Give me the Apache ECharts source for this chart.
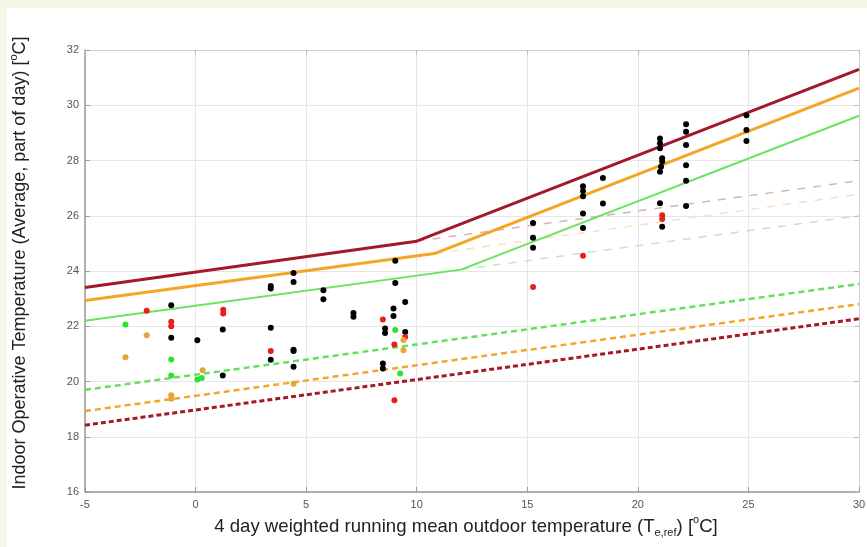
<!DOCTYPE html>
<html>
<head>
<meta charset="utf-8">
<script src="https://cdn.jsdelivr.net/npm/echarts@6/dist/echarts.min.js"></script>
<style>
  html, body { margin: 0; padding: 0; width: 867px; height: 547px; background: #f7f7e7; overflow: hidden; }
  #chart { position: absolute; left: 7px; top: 8px; width: 860px; height: 539px; background: #ffffff; }
</style>
</head>
<body>
<div id="chart"></div>
<script>
// ---- Axis ticks ----
const xTicks = [-5, 0, 5, 10, 15, 20, 25, 30];
const yTicks = [16, 18, 20, 22, 24, 26, 28, 30, 32];

// ---- Comfort limit lines [Te,ref, T_indoor] ----
const upperDarkRed   = [[-5, 23.4], [10, 25.08], [30, 31.3]];
const upperOrange    = [[-5, 22.93], [10.8, 24.63], [30, 30.62]];
const upperGreen     = [[-5, 22.2], [12, 24.05], [30, 29.62]];
const paleDarkRed    = [[10, 25.08], [30, 27.27]];
const paleOrange     = [[10.8, 24.63], [30, 26.78]];
const paleGreen      = [[12, 24.05], [30, 26.0]];
const lowerGreen     = [[-5, 19.7], [30, 23.53]];
const lowerOrange    = [[-5, 18.93], [30, 22.8]];
const lowerDarkRed   = [[-5, 18.42], [30, 22.27]];

// ---- Measured points ----
const blackPoints = [
  [-1.1, 22.76], [-1.1, 21.58], [0.08, 21.49], [1.23, 21.88], [1.23, 20.22],
  [3.4, 23.46], [3.4, 23.37], [3.4, 21.95], [3.4, 20.79],
  [4.43, 23.93], [4.43, 23.6], [4.43, 21.15], [4.43, 21.1], [4.43, 20.53],
  [5.78, 23.3], [5.78, 22.98], [7.14, 22.48], [7.14, 22.34],
  [9.03, 24.37], [9.03, 23.57], [9.48, 22.88], [8.95, 22.64], [8.95, 22.37],
  [8.57, 21.92], [8.57, 21.76], [9.48, 21.79], [8.47, 20.65], [8.47, 20.47],
  [15.26, 25.74], [15.26, 25.2], [15.26, 24.84],
  [17.52, 27.07], [17.52, 26.9], [17.52, 26.71], [17.52, 26.08], [17.52, 25.56],
  [18.42, 27.37], [18.42, 26.44],
  [21.0, 28.8], [21.0, 28.62], [21.0, 28.44], [21.1, 28.08], [21.1, 27.96],
  [21.05, 27.77], [21.0, 27.59], [21.0, 26.45], [21.1, 25.6],
  [22.18, 29.31], [22.18, 29.04], [22.18, 28.56], [22.18, 27.83], [22.18, 27.27], [22.18, 26.35],
  [24.91, 29.64], [24.91, 29.1], [24.91, 28.71]
];
const redPoints = [
  [-2.21, 22.56], [-1.1, 22.16], [-1.1, 22.0], [1.25, 22.6], [1.25, 22.46],
  [3.4, 21.1], [8.47, 22.24], [9.48, 21.61], [8.99, 21.34], [8.99, 19.32],
  [15.26, 23.42], [17.52, 24.55], [21.1, 26.02], [21.1, 25.88]
];
const orangePoints = [
  [-3.17, 20.88], [-2.21, 21.67], [-1.1, 19.5], [-1.1, 19.38], [0.32, 20.41],
  [9.4, 21.5], [9.4, 21.13], [4.43, 19.92]
];
const greenPoints = [
  [-3.17, 22.06], [-1.1, 20.8], [-1.1, 20.22], [0.08, 20.07], [0.28, 20.13],
  [9.03, 21.86], [9.25, 20.29]
];

const FONT = 'Liberation Sans, Arial, sans-serif';
const chart = echarts.init(document.getElementById('chart'), null, { renderer: 'canvas' });

function lineSeries(data, color, width, type) {
  return {
    type: 'line', data: data, symbol: 'none', silent: true, z: 2,
    lineStyle: { color: color, width: width, type: type || 'solid' }
  };
}
function scatterSeries(data, color, size) {
  return { type: 'scatter', data: data, symbol: 'circle', symbolSize: size, z: 5,
           itemStyle: { color: color, opacity: 1 } };
}

const axisText = { fontFamily: FONT, fontSize: 11, color: '#555' };
function makeRich(size) {
  return {
    a: { fontFamily: FONT, fontSize: size, color: '#222', lineHeight: 24 },
    s: { fontFamily: FONT, fontSize: 11, color: '#222', verticalAlign: 'top', lineHeight: 24 },
    b: { fontFamily: FONT, fontSize: 11, color: '#222', verticalAlign: 'bottom', lineHeight: 24, padding: [8, 0, 0, 0] }
  };
}

chart.setOption({
  animation: false,
  backgroundColor: '#ffffff',
  grid: { left: 78, right: 8, top: 42, bottom: 55, containLabel: false, outerBoundsMode: 'none' },
  xAxis: [{
    type: 'value', min: xTicks[0], max: xTicks[xTicks.length - 1], interval: 5,
    name: '{a|4 day weighted running mean outdoor temperature (T}{b|e,ref}{a|) [}{s|o}{a|C]}',
    nameLocation: 'middle', nameGap: 18,
    nameTextStyle: { rich: makeRich(18.6), padding: [0, 12, 0, 0] },
    axisLine: { onZero: false, lineStyle: { color: '#999', width: 1.5 } },
    axisTick: { inside: true, length: 5, lineStyle: { color: '#999' } },
    axisLabel: Object.assign({ margin: 7 }, axisText),
    splitLine: { show: true, lineStyle: { color: '#e6e6e6', width: 1 } }
  }, {
    type: 'value', position: 'top', min: -5, max: 30, interval: 5,
    axisLine: { show: true, onZero: false, lineStyle: { color: '#cfcfcf', width: 1 } },
    axisTick: { inside: true, length: 5, lineStyle: { color: '#bbb' } },
    axisLabel: { show: false }, splitLine: { show: false }
  }],
  yAxis: [{
    type: 'value', min: yTicks[0], max: yTicks[yTicks.length - 1], interval: 2,
    name: '{a|Indoor Operative Temperature (Average, part of day) [}{s|o}{a|C]}',
    nameLocation: 'middle', nameGap: 53, nameRotate: 90,
    nameTextStyle: { rich: makeRich(18), padding: [0, 0, 0, 16] },
    axisLine: { show: true, onZero: false, lineStyle: { color: '#999', width: 1.5 } },
    axisTick: { show: true, inside: true, length: 5, lineStyle: { color: '#999' } },
    axisLabel: Object.assign({ margin: 6 }, axisText),
    splitLine: { show: true, lineStyle: { color: '#e6e6e6', width: 1 } }
  }, {
    type: 'value', position: 'right', min: 16, max: 32, interval: 2,
    axisLine: { show: true, onZero: false, lineStyle: { color: '#cfcfcf', width: 1 } },
    axisTick: { show: true, inside: true, length: 5, lineStyle: { color: '#bbb' } },
    axisLabel: { show: false }, splitLine: { show: false }
  }],
  series: [
    lineSeries(paleDarkRed, '#dcb0b4', 1.5, [8, 8]),
    lineSeries(paleOrange, '#fbe0bc', 1.5, [8, 8]),
    lineSeries(paleGreen, '#bfe8bd', 1.5, [8, 8]),
    lineSeries(lowerGreen, '#66e05a', 2.5, [6, 4]),
    lineSeries(lowerOrange, '#f4a62a', 2.5, [6, 4]),
    lineSeries(lowerDarkRed, '#a5182a', 3, [5, 3]),
    lineSeries(upperGreen, '#6ae35e', 2),
    lineSeries(upperOrange, '#f4a622', 3),
    lineSeries(upperDarkRed, '#a5182a', 3),
    scatterSeries(blackPoints, '#000000', 6),
    scatterSeries(redPoints, '#e8201c', 6),
    scatterSeries(orangePoints, '#e6a53a', 6),
    scatterSeries(greenPoints, '#2ee030', 6)
  ]
});
</script>
</body>
</html>
